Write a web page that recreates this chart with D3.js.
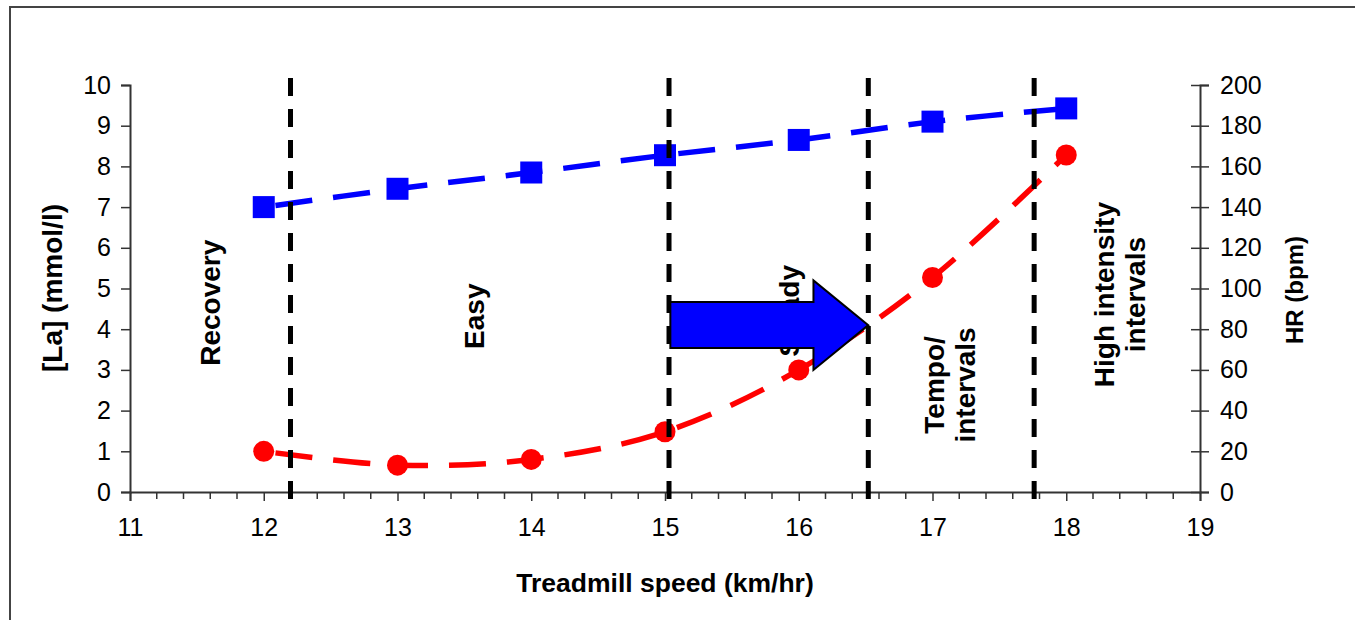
<!DOCTYPE html>
<html>
<head>
<meta charset="utf-8">
<script src="https://cdn.jsdelivr.net/npm/d3@7"></script>
<style>
html,body{margin:0;padding:0;background:#fff;}
svg{display:block;font-family:"Liberation Sans",Arial,sans-serif;}
</style>
</head>
<body>
<svg id="chart" width="1355" height="620"></svg>
<script>
// ---- data ----
const speeds = [12, 13, 14, 15, 16, 17, 18];
const heartRate = [140, 149, 157, 165.5, 173, 182, 188.5];      // bpm, right axis
const lactate = [1.0, 0.66, 0.8, 1.48, 3.0, 5.27, 8.28];       // mmol/l, left axis
const xTicks = [11, 12, 13, 14, 15, 16, 17, 18, 19];
const leftTicks = [0, 1, 2, 3, 4, 5, 6, 7, 8, 9, 10];
const rightTicks = [0, 20, 40, 60, 80, 100, 120, 140, 160, 180, 200];
const zoneBoundaries = [12.2, 15.03, 16.52, 17.76];
const zoneLabels = [
  {lines: ["Recovery"], x: 11.6, y: 4.65},
  {lines: ["Easy"], x: 13.57, y: 4.32},
  {lines: ["Steady"], x: 15.93, y: 4.45},
  {lines: ["Tempo/", "intervals"], x: 17.13, y: 2.63},
  {lines: ["High intensity", "intervals"], x: 18.4, y: 4.85}
];
// arrow annotation in data units [speed, lactate]
const arrowShape = [[15.04, 4.67], [16.11, 4.67], [16.11, 5.2], [16.52, 4.1], [16.11, 3.0], [16.11, 3.54], [15.04, 3.54]];

// ---- drawing ----
const svg = d3.select("#chart");
const x = d3.scaleLinear().domain([11, 19]).range([130, 1200]);
const yL = d3.scaleLinear().domain([0, 10]).range([492, 85]);
const yR = d3.scaleLinear().domain([0, 200]).range([492, 85]);

// frame
svg.append("rect").attr("x", 10).attr("y", 7).attr("width", 1400).attr("height", 700)
  .attr("fill", "none").attr("stroke", "#444").attr("stroke-width", 2);

const tickFont = 25;
// x axis
const xAxis = svg.append("g").attr("transform", `translate(0,${yL(0)})`)
  .call(d3.axisBottom(x).tickValues(xTicks).tickFormat(d3.format("d")).tickSize(9).tickPadding(17));
xAxis.selectAll("text").attr("font-size", tickFont).attr("fill", "#000").attr("font-family", "Liberation Sans, Arial, sans-serif");
// minor ticks
const minor = d3.range(11, 19.0001, 0.2).filter(v => Math.abs(v - Math.round(v)) > 1e-6);
svg.append("g").attr("transform", `translate(0,${yL(0)})`)
  .selectAll("line").data(minor).join("line")
  .attr("x1", d => x(d)).attr("x2", d => x(d)).attr("y1", 0).attr("y2", 7)
  .attr("stroke", "#333").attr("stroke-width", 1.5);

// left axis
const lAxis = svg.append("g").attr("transform", `translate(${x(11)},0)`)
  .call(d3.axisLeft(yL).tickValues(leftTicks).tickFormat(d3.format("d")).tickSize(9).tickPadding(10));
lAxis.selectAll("text").attr("font-size", tickFont).attr("fill", "#000").attr("font-family", "Liberation Sans, Arial, sans-serif");

// right axis (ticks cross)
const rAxis = svg.append("g").attr("transform", `translate(${x(19)},0)`)
  .call(d3.axisRight(yR).tickValues(rightTicks).tickFormat(d3.format("d")).tickSize(9).tickPadding(11));
rAxis.selectAll(".tick line").attr("x1", -9);
rAxis.selectAll("text").attr("font-size", tickFont).attr("fill", "#000").attr("font-family", "Liberation Sans, Arial, sans-serif");

svg.selectAll(".domain").attr("stroke", "#333").attr("stroke-width", 2);
svg.selectAll(".tick line").attr("stroke", "#333").attr("stroke-width", 1.5);

// axis titles
svg.append("text").attr("x", 665).attr("y", 592).attr("text-anchor", "middle")
  .attr("font-size", 26.5).attr("font-weight", "bold").text("Treadmill speed (km/hr)");
svg.append("text").attr("transform", "translate(62,288) rotate(-90)").attr("text-anchor", "middle")
  .attr("font-size", 28).attr("font-weight", "bold").text("[La] (mmol/l)");
svg.append("text").attr("transform", "translate(1303,290) rotate(-90)").attr("text-anchor", "middle")
  .attr("font-size", 24).attr("font-weight", "bold").text("HR (bpm)");

// data lines
const hrLine = d3.line().x((d, i) => x(speeds[i])).y(d => yR(d)).curve(d3.curveCardinal.tension(0));
const laLine = d3.line().x((d, i) => x(speeds[i])).y(d => yL(d)).curve(d3.curveCardinal.tension(0));
svg.append("path").datum(heartRate).attr("d", hrLine).attr("fill", "none")
  .attr("stroke", "#0000ff").attr("stroke-width", 5.5).attr("stroke-dasharray", "37,21").attr("stroke-dashoffset", -12);
svg.append("path").datum(lactate).attr("d", laLine).attr("fill", "none")
  .attr("stroke", "#ff0000").attr("stroke-width", 5.5).attr("stroke-dasharray", "37,21").attr("stroke-dashoffset", -12);

svg.append("g").selectAll("rect").data(heartRate).join("rect")
  .attr("x", (d, i) => x(speeds[i]) - 11).attr("y", d => yR(d) - 11)
  .attr("width", 22).attr("height", 22).attr("fill", "#0000ff");
svg.append("g").selectAll("circle").data(lactate).join("circle")
  .attr("cx", (d, i) => x(speeds[i])).attr("cy", d => yL(d)).attr("r", 10.5).attr("fill", "#ff0000");

// zone boundary lines
svg.append("g").selectAll("line").data(zoneBoundaries).join("line")
  .attr("x1", d => x(d)).attr("x2", d => x(d)).attr("y1", 78).attr("y2", 503)
  .attr("stroke", "#000").attr("stroke-width", 5).attr("stroke-dasharray", "18,13");

// zone labels
const zl = svg.append("g").selectAll("text").data(zoneLabels).join("text")
  .attr("transform", d => `translate(${x(d.x)},${yL(d.y)}) rotate(-90)`)
  .attr("text-anchor", "middle").attr("font-size", 28).attr("font-weight", "bold");
zl.each(function(d) {
  const n = d.lines.length;
  d3.select(this).selectAll("tspan").data(d.lines).join("tspan")
    .attr("x", 0).attr("y", (t, i) => (i - (n - 1) / 2) * 31 + 10).text(t => t);
});

// arrow
svg.append("path").datum(arrowShape)
  .attr("d", d3.line().x(d => x(d[0])).y(d => yL(d[1])).curve(d3.curveLinearClosed))
  .attr("fill", "#0000ff").attr("stroke", "#000").attr("stroke-width", 2);
</script>
</body>
</html>
